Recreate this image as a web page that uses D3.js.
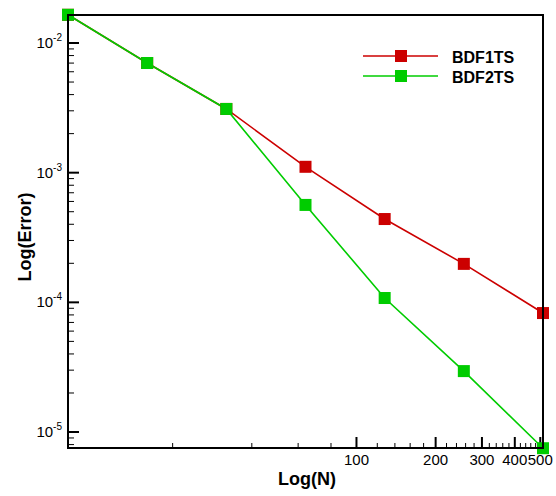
<!DOCTYPE html>
<html><head><meta charset="utf-8">
<script src="https://cdn.jsdelivr.net/npm/d3@7"></script>
<style>body{margin:0;background:#fff;}svg{display:block;font-family:"Liberation Sans",Arial,sans-serif;}</style>
</head><body>
<svg id="c" width="556" height="496"></svg>
<script>
const N = [8, 16, 32, 64, 128, 256, 512];
const bdf1 = [0.0165, 0.00701, 0.0031, 0.00111, 4.39e-4, 1.98e-4, 8.27e-5];
const bdf2 = [0.0165, 0.00701, 0.0031, 5.64e-4, 1.08e-4, 2.95e-5, 7.5e-6];
const seriesNames = ["BDF1TS", "BDF2TS"];
const seriesColors = ["#cc0000", "#00cc00"];
const xMajorTicks = [100, 200, 300, 400, 500];
const yMajorTicks = [1e-2, 1e-3, 1e-4, 1e-5];
const yExponents = ["-2", "-3", "-4", "-5"];

const svg = d3.select("#c");
const L = 68, R = 543, T = 15, B = 448;
const x = d3.scaleLog().domain([8, 512]).range([L, R]);
const y = d3.scaleLog().domain([7.53e-6, 0.01644]).range([B, T]);

const xMinor = d3.range(20, 512, 20).filter(v => !xMajorTicks.includes(v));
const g = svg.append("g");
g.selectAll(".xm").data(xMinor).enter().append("line")
  .attr("x1", d => x(d)).attr("x2", d => x(d)).attr("y1", B).attr("y2", B - 5)
  .attr("stroke", "#000").attr("stroke-width", 1);
g.selectAll(".xM").data(xMajorTicks).enter().append("line")
  .attr("x1", d => x(d)).attr("x2", d => x(d)).attr("y1", B).attr("y2", B - 11)
  .attr("stroke", "#000").attr("stroke-width", 2);
g.selectAll(".xl").data(xMajorTicks).enter().append("text")
  .attr("x", d => x(d)).attr("y", B + 17).attr("text-anchor", "middle")
  .attr("font-size", 15).text(d => d);

const yMinor = [];
for (let e = -6; e <= -2; e++) for (let m = 2; m <= 9; m++) {
  const v = m * Math.pow(10, e);
  if (v >= y.domain()[0] && v <= y.domain()[1]) yMinor.push(v);
}
g.selectAll(".ym").data(yMinor).enter().append("line")
  .attr("x1", L).attr("x2", L + 6).attr("y1", d => y(d)).attr("y2", d => y(d))
  .attr("stroke", "#000").attr("stroke-width", 1);
g.selectAll(".yM").data(yMajorTicks).enter().append("line")
  .attr("x1", L).attr("x2", L + 11).attr("y1", d => y(d)).attr("y2", d => y(d))
  .attr("stroke", "#000").attr("stroke-width", 2);
const yl = g.selectAll(".yl").data(yMajorTicks).enter().append("text")
  .attr("x", L - 6).attr("y", d => y(d) + 5).attr("text-anchor", "end")
  .attr("font-size", 15);
yl.append("tspan").text("10");
yl.append("tspan").attr("font-size", 10).attr("dy", -7).text((d, i) => yExponents[i]);

const line = d3.line().x(d => x(d[0])).y(d => y(d[1]));
[bdf1, bdf2].forEach((s, i) => {
  const pts = N.map((n, j) => [n, s[j]]);
  svg.append("path").attr("d", line(pts)).attr("fill", "none")
    .attr("stroke", seriesColors[i]).attr("stroke-width", 1.6);
});
[bdf1, bdf2].forEach((s, i) => {
  const pts = N.map((n, j) => [n, s[j]]);
  svg.selectAll(".m" + i).data(pts).enter().append("rect")
    .attr("x", d => x(d[0]) - 6).attr("y", d => y(d[1]) - 6)
    .attr("width", 12).attr("height", 12).attr("fill", seriesColors[i]);
});

svg.append("rect").attr("x", L).attr("y", T).attr("width", R - L).attr("height", B - T)
  .attr("fill", "none").attr("stroke", "#000").attr("stroke-width", 2);

seriesNames.forEach((name, i) => {
  const ly = 56 + i * 20;
  svg.append("line").attr("x1", 363).attr("x2", 438).attr("y1", ly).attr("y2", ly)
    .attr("stroke", seriesColors[i]).attr("stroke-width", 1.6);
  svg.append("rect").attr("x", 395).attr("y", ly - 6).attr("width", 12).attr("height", 12)
    .attr("fill", seriesColors[i]);
  svg.append("text").attr("x", 452).attr("y", ly + 7).attr("font-size", 16)
    .attr("font-weight", "bold").text(name);
});

svg.append("text").attr("x", 307).attr("y", 485).attr("text-anchor", "middle")
  .attr("font-size", 18).attr("font-weight", "bold").text("Log(N)");
svg.append("text").attr("transform", "translate(31,237) rotate(-90)")
  .attr("text-anchor", "middle").attr("font-size", 18).attr("font-weight", "bold")
  .text("Log(Error)");
</script>
</body></html>
